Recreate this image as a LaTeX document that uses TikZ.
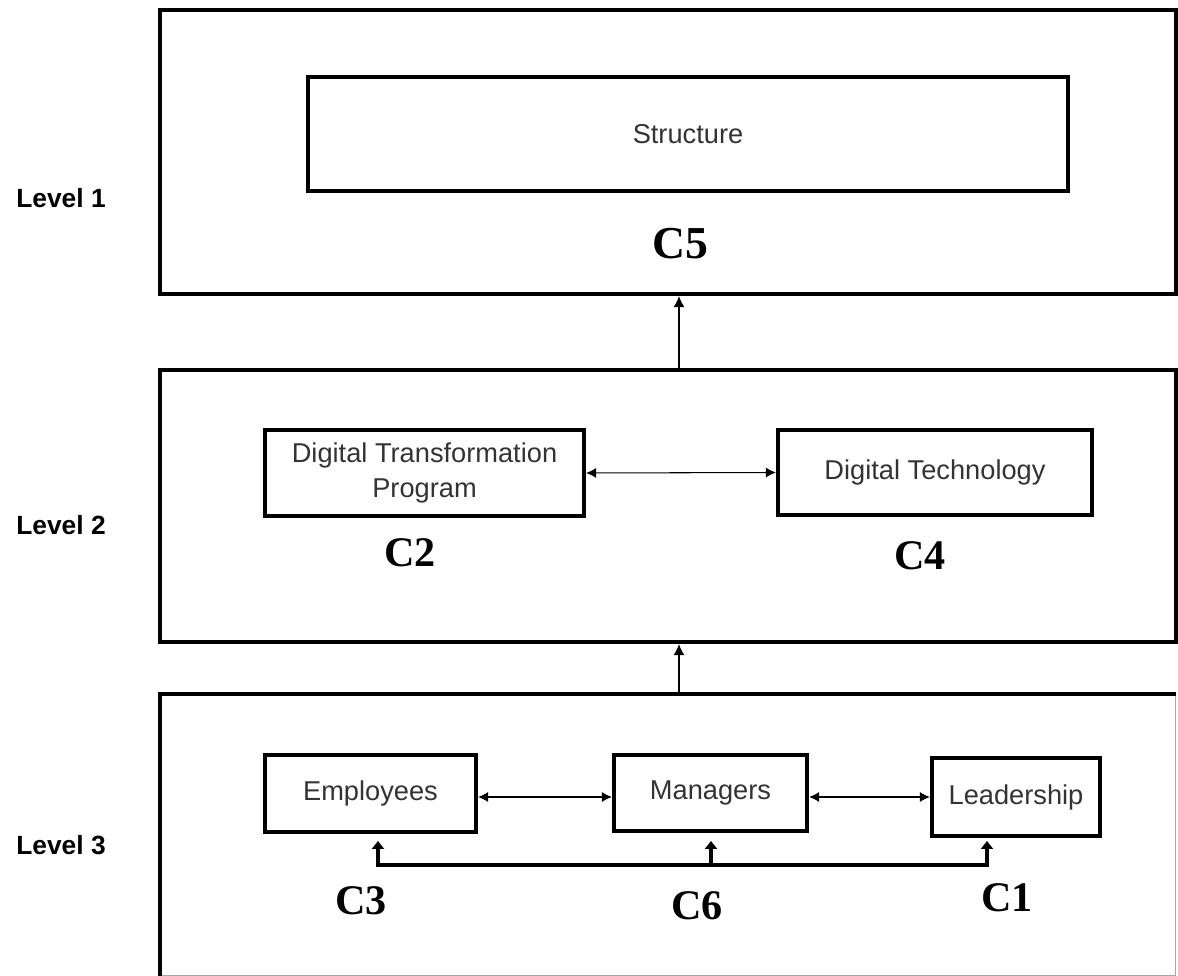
\documentclass[tikz,border=0pt]{standalone}
\usepackage{fontspec}
\setmainfont{Liberation Sans}
\newfontfamily\cfont{Liberation Serif}
\usetikzlibrary{arrows.meta,calc}

\tikzset{
  levelbox/.style={draw, line width=2.4pt, inner sep=0pt},
  itembox/.style={draw, line width=2.4pt, inner sep=0pt, align=center, text=black!80,
    font=\fontsize{15.5}{19.5}\selectfont},
  levellabel/.style={font=\bfseries\fontsize{15}{18}\selectfont},
  clabel/.style={font=\cfont\bfseries\fontsize{24}{28}\selectfont},
  link/.style={line width=0.6pt, {Latex[length=2mm,width=2mm]}-{Latex[length=2mm,width=2mm]}},
  uplink/.style={line width=0.7pt, -{Latex[length=2.2mm,width=2.2mm]}},
  bar/.style={line width=2.6pt},
}

\begin{document}
\begin{tikzpicture}[x=0.02cm, y=-0.02cm]
	\useasboundingbox (0,0) rectangle (1178,976);
	% level frames
	\node[levelbox, minimum width=20.32cm, minimum height=5.68cm] (lvlone) at (668,152) {};
	\node[levelbox, minimum width=20.32cm, minimum height=5.44cm] (lvltwo) at (668,506) {};
	\node[draw=black!35, line width=0.5pt, inner sep=0pt, minimum width=20.32cm, minimum height=5.62cm] (lvlthree) at (668,835) {};
	\draw[line width=2.4pt] (lvlthree.south west) -- (lvlthree.north west) -- (lvlthree.north east);
	\node[levellabel] (lab1) at (61,198) {Level 1};
	\node[levellabel] (lab2) at (61,525) {Level 2};
	\node[levellabel] (lab3) at (61,845) {Level 3};
	% level 1
	\node[itembox, minimum width=15.2cm, minimum height=2.28cm] (struct) at (688,134) {Structure};
	\node[clabel, font=\cfont\bfseries\fontsize{26}{30}\selectfont] (cfive) at (680,244) {C5};
	% level 2
	\node[itembox, minimum width=6.38cm, minimum height=1.72cm] (dtp) at (424.5,473) {Digital Transformation\\Program};
	\node[itembox, minimum width=6.28cm, minimum height=1.70cm] (dtech) at (935,472.5) {Digital Technology};
	\draw[link] (dtp.east) -- (dtech.west);
	\node[clabel] (ctwo) at (410,553) {C2};
	\node[clabel] (cfour) at (920,556) {C4};
	% level 3
	\node[itembox, minimum width=4.22cm, minimum height=1.54cm] (emp) at (370.5,793.5) {Employees};
	\node[itembox, minimum width=3.86cm, minimum height=1.52cm] (mgr) at (710.5,793) {Managers};
	\node[itembox, minimum width=3.36cm, minimum height=1.56cm] (lead) at (1016,797) {Leadership};
	\draw[link] (emp.east |- lead) -- (mgr.west |- lead);
	\draw[link] (mgr.east |- lead) -- (lead.west);
	\node[clabel] (cthree) at (361,901) {C3};
	\node[clabel] (csix) at (697,906) {C6};
	\node[clabel] (cone) at (1007,898) {C1};
	% bracket below level 3
	\coordinate (b3) at (378,865);
	\coordinate (b6) at (711,865);
	\coordinate (b1) at (987,865);
	\draw[bar, line cap=rect] (b3) -- (b1);
	\foreach \b in {b3,b6,b1}
		\draw[line width=2.6pt, -{Triangle[length=1.6mm,width=2.4mm]}] (\b) -- ($(\b)+(0,-24)$);
	% links between levels
	\coordinate (mid) at (679,0);
	\draw[uplink] (lvltwo.north -| mid) -- (lvlone.south -| mid);
	\draw[uplink] (lvlthree.north -| mid) -- (lvltwo.south -| mid);
\end{tikzpicture}
\end{document}
